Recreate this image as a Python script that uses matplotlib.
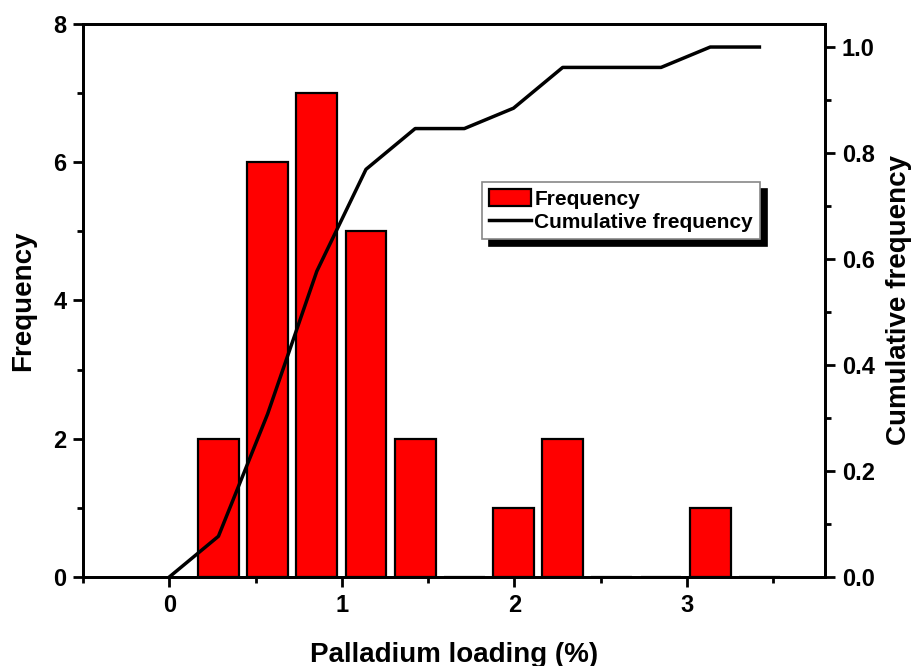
import numpy as np
import matplotlib.pyplot as plt

plt.rcParams['font.family'] = ['Liberation Sans', 'DejaVu Sans']
plt.rcParams['font.weight'] = 'bold'

# bin centres (%) and counts
bin_centers = [0.285, 0.57, 0.855, 1.14, 1.425, 1.71, 1.995, 2.28, 2.565, 2.85, 3.135, 3.42]
counts = [2, 6, 7, 5, 2, 0, 1, 2, 0, 0, 1, 0]

# cumulative curve starts at 0
cum_x = [0.0] + bin_centers
cum_y = [0.0] + list(np.cumsum(counts) / np.sum(counts))

fig = plt.figure(figsize=(9.14, 6.66), dpi=100)
ax = fig.add_axes([0.0908, 0.1336, 0.8118, 0.8304])

bars = ax.bar(bin_centers, counts, width=0.237, color='#ff0000',
              edgecolor='black', linewidth=1.6, label='Frequency', zorder=2)
ax.set_xlim(-0.5, 3.8)
ax.set_ylim(0, 8)
ax.set_xticks([0, 1, 2, 3])
ax.set_xticks([-0.5, 0.5, 1.5, 2.5, 3.5], minor=True)
ax.set_yticks([0, 2, 4, 6, 8])
ax.set_yticks([1, 3, 5, 7], minor=True)

ax2 = ax.twinx()
line, = ax2.plot(cum_x, cum_y, color='black', linewidth=2.5,
                 label='Cumulative frequency')
ax2.set_ylim(0, 1.0435)
ax2.set_yticks([0.0, 0.2, 0.4, 0.6, 0.8, 1.0])
ax2.set_yticks([0.1, 0.3, 0.5, 0.7, 0.9], minor=True)
ax2.set_yticklabels(['0.0', '0.2', '0.4', '0.6', '0.8', '1.0'])

for a in (ax, ax2):
    for s in a.spines.values():
        s.set_linewidth(2)
    a.tick_params(which='major', direction='out', length=7, width=2,
                  labelsize=17, pad=5)
    a.tick_params(which='minor', direction='out', length=4, width=2)
ax.tick_params(axis='both', which='both', top=False, right=False)
ax2.tick_params(axis='y', which='both', left=False, right=True)

ax.set_xlabel('Palladium loading (%)', fontsize=20, fontweight='bold', labelpad=18)
ax.set_ylabel('Frequency', fontsize=20, fontweight='bold', labelpad=12)
ax2.set_ylabel('Cumulative frequency', fontsize=20, fontweight='bold', labelpad=8)

leg = ax2.legend([bars, line], ['Frequency', 'Cumulative frequency'],
                 loc='upper left', bbox_to_anchor=(0.538, 0.714),
                 borderaxespad=0, fancybox=False, framealpha=1,
                 edgecolor='#888888', fontsize=15, handlelength=2.0,
                 handleheight=0.85, handletextpad=0.15, borderpad=0.35,
                 labelspacing=0.15,
                 shadow={'ox': 5, 'oy': -5, 'color': 'black', 'alpha': 1})
leg.get_frame().set_linewidth(1.2)
for t in leg.get_texts():
    t.set_fontweight('bold')

fig.savefig('out.png', dpi=100)
